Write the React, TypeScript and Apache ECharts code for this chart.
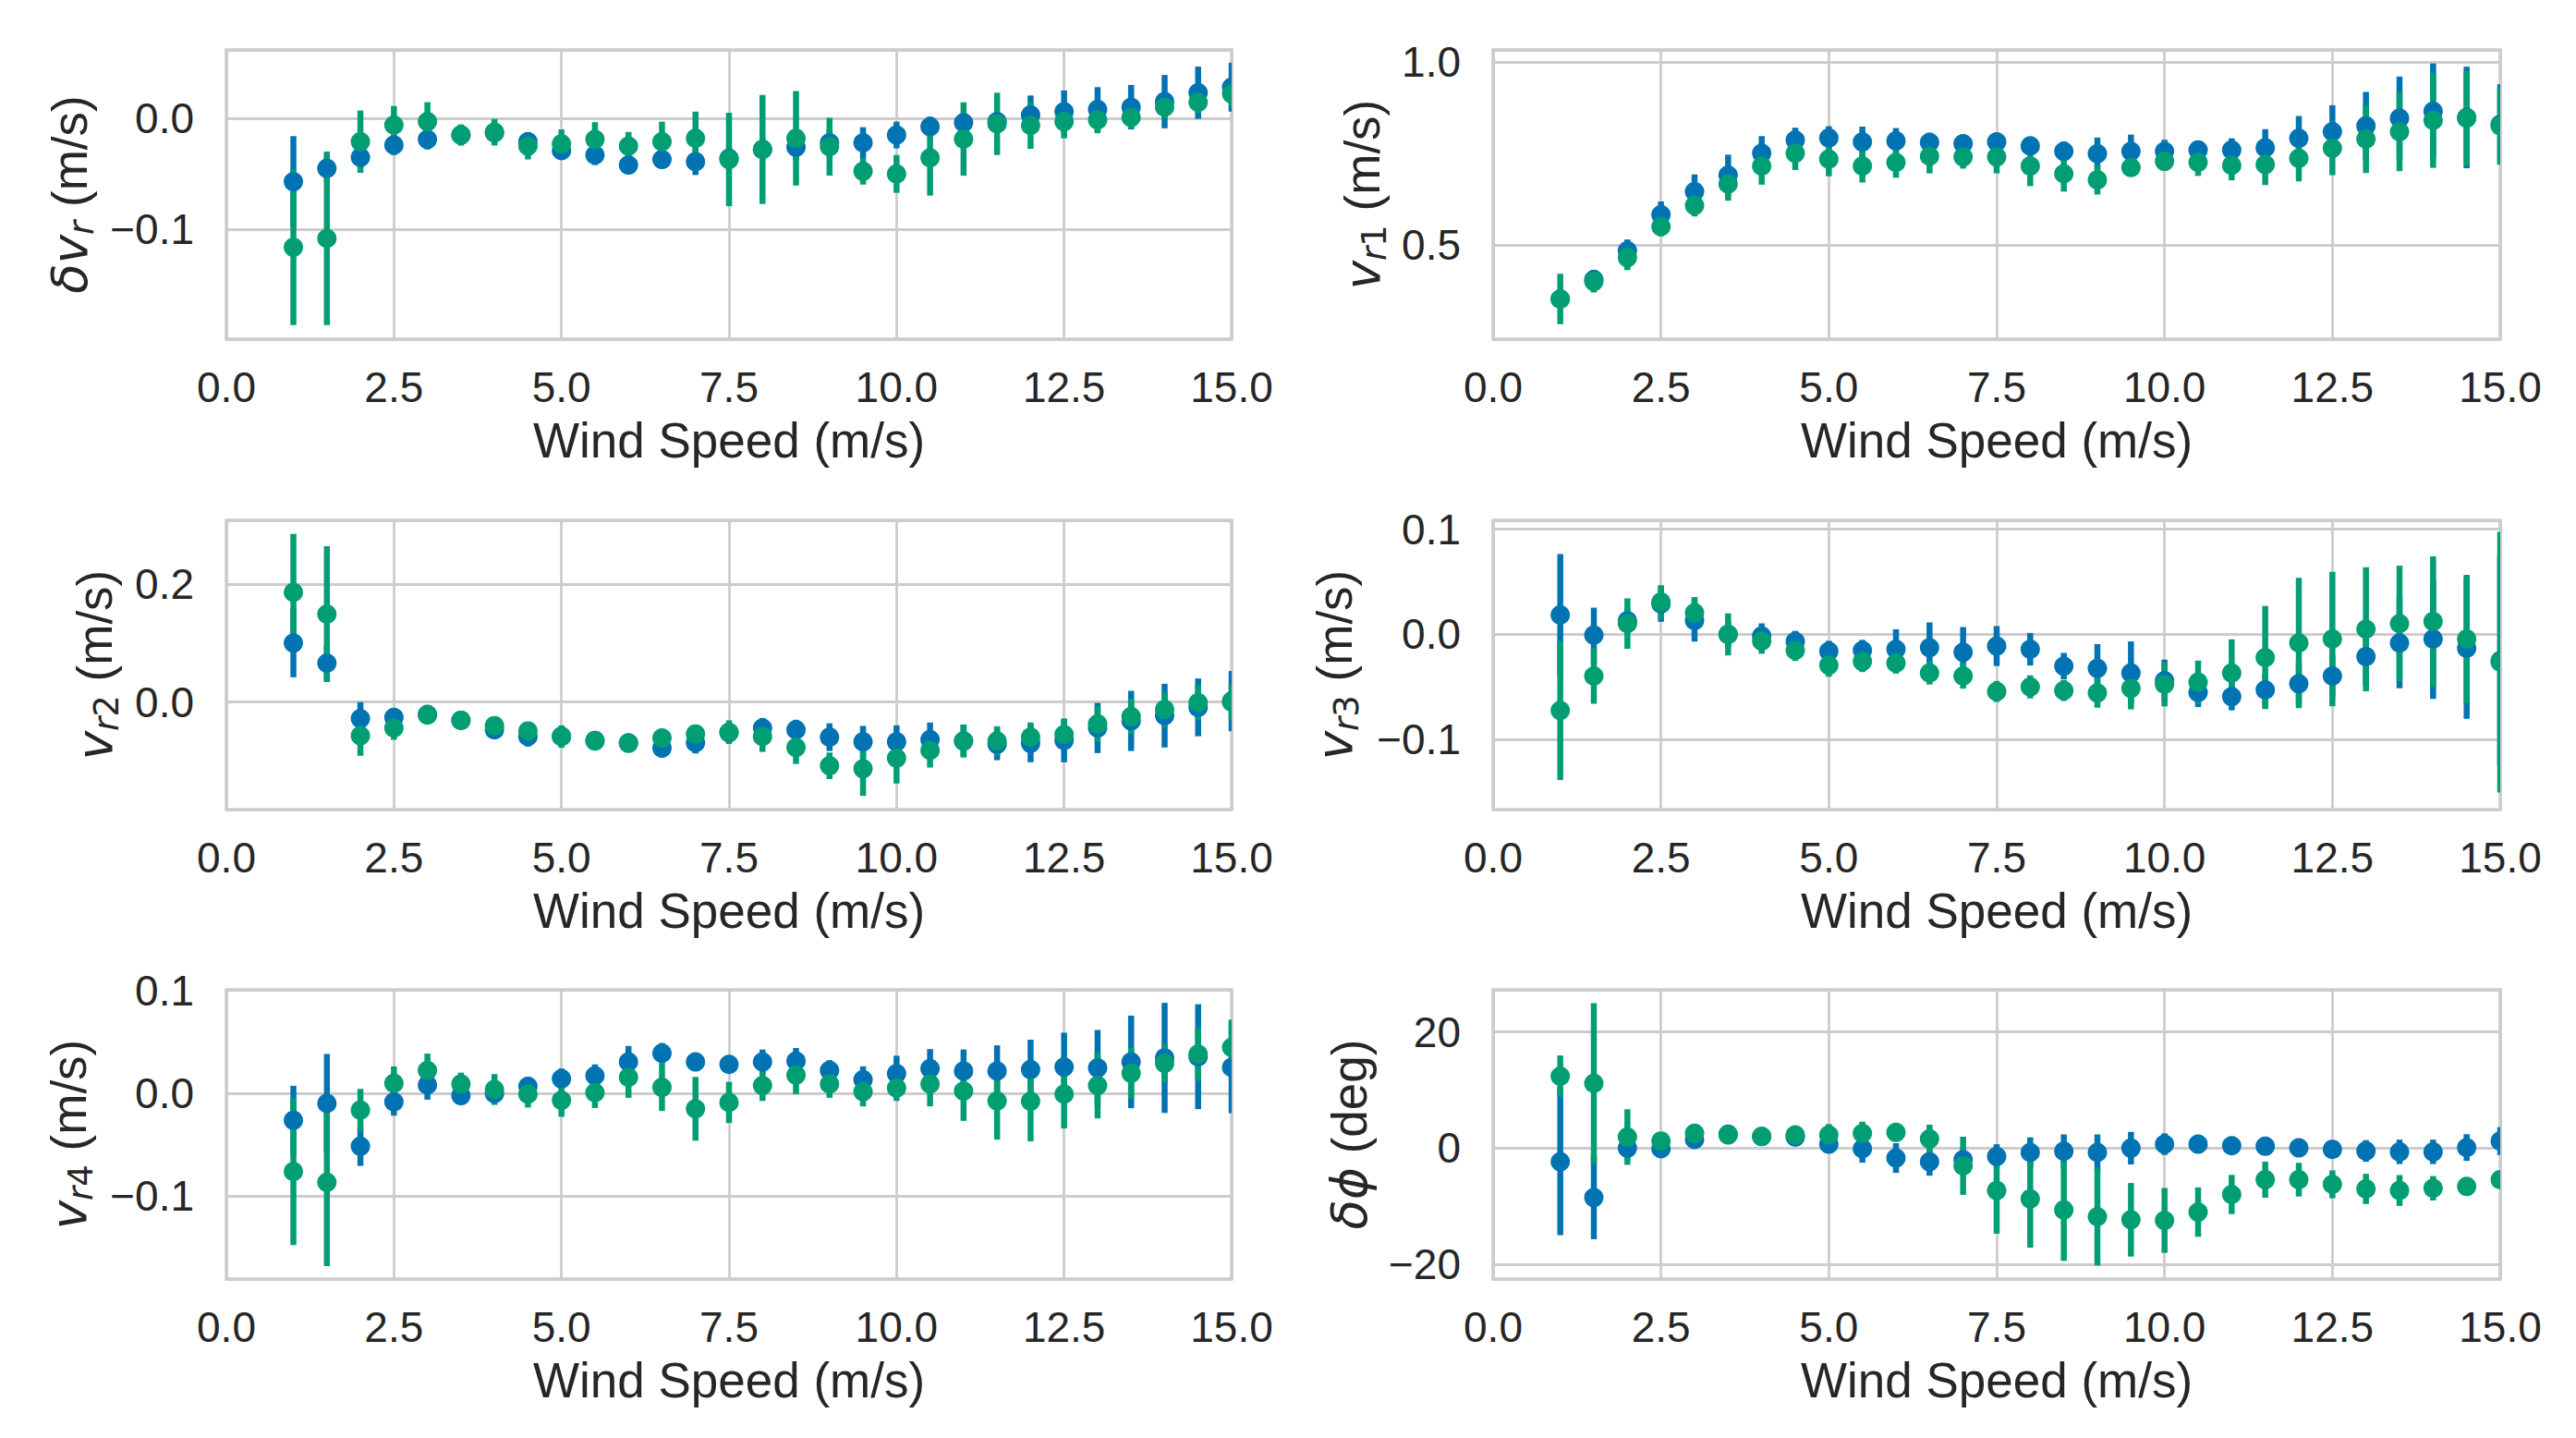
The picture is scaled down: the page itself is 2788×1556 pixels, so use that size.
import React, { useEffect, useRef } from 'react';
import * as echarts from 'echarts';

// ---------- data ----------
const windSpeed = [1.0, 1.5, 2.0, 2.5, 3.0, 3.5, 4.0, 4.5, 5.0, 5.5, 6.0, 6.5, 7.0, 7.5, 8.0, 8.5, 9.0, 9.5, 10.0, 10.5, 11.0, 11.5, 12.0, 12.5, 13.0, 13.5, 14.0, 14.5, 15.0];
const xTicks = [0, 2.5, 5, 7.5, 10, 12.5, 15];

// δv_r
const dvrBlueMean = [-0.057, -0.045, -0.035, -0.024, -0.019, -0.015, -0.013, -0.021, -0.029, -0.033, -0.042, -0.037, -0.039, -0.036, -0.028, -0.026, -0.022, -0.022, -0.015, -0.0075, -0.004, -0.003, 0.003, 0.006, 0.008, 0.010, 0.015, 0.023, 0.028];
const dvrBlueErr = [0.041, 0.012, 0.01, 0.009, 0.009, 0.008, 0.008, 0.008, 0.008, 0.009, 0.008, 0.008, 0.012, 0.01, 0.01, 0.012, 0.012, 0.014, 0.012, 0.009, 0.008, 0.008, 0.0175, 0.019, 0.02, 0.02, 0.024, 0.0235, 0.022];
const dvrGreenMean = [-0.116, -0.108, -0.021, -0.006, -0.003, -0.015, -0.0125, -0.025, -0.023, -0.019, -0.025, -0.021, -0.018, -0.037, -0.028, -0.018, -0.0255, -0.0476, -0.050, -0.0355, -0.0186, -0.005, -0.0064, -0.003, -0.0014, 0.0008, 0.010, 0.0144, 0.022];
const dvrGreenErr = [0.070, 0.078, 0.028, 0.017, 0.0175, 0.0095, 0.012, 0.012, 0.013, 0.0155, 0.0127, 0.018, 0.024, 0.042, 0.049, 0.0425, 0.026, 0.012, 0.017, 0.034, 0.033, 0.028, 0.021, 0.015, 0.012, 0.01, 0.01, 0.01, 0.012];

// v_r1
const vr1BlueMean = [0.352, 0.405, 0.484, 0.583, 0.646, 0.691, 0.751, 0.787, 0.793, 0.782, 0.785, 0.781, 0.777, 0.782, 0.771, 0.756, 0.750, 0.756, 0.756, 0.760, 0.760, 0.766, 0.792, 0.810, 0.826, 0.847, 0.866, 0.849, 0.830];
const vr1BlueErr = [0.02, 0.027, 0.031, 0.036, 0.047, 0.056, 0.047, 0.034, 0.032, 0.042, 0.035, 0.026, 0.024, 0.024, 0.026, 0.027, 0.044, 0.046, 0.032, 0.024, 0.032, 0.051, 0.061, 0.0725, 0.093, 0.114, 0.131, 0.139, 0.11];
const vr1GreenMean = [0.352, 0.400, 0.465, 0.550, 0.608, 0.667, 0.716, 0.751, 0.735, 0.716, 0.726, 0.743, 0.741, 0.741, 0.716, 0.695, 0.678, 0.712, 0.729, 0.726, 0.718, 0.720, 0.737, 0.765, 0.790, 0.810, 0.841, 0.847, 0.826];
const vr1GreenErr = [0.069, 0.03, 0.034, 0.026, 0.03, 0.046, 0.051, 0.046, 0.047, 0.045, 0.042, 0.047, 0.032, 0.045, 0.055, 0.049, 0.04, 0.025, 0.025, 0.037, 0.041, 0.056, 0.063, 0.074, 0.093, 0.108, 0.13, 0.13, 0.104];

// v_r2
const vr2BlueMean = [0.100, 0.066, -0.028, -0.026, -0.021, -0.031, -0.047, -0.0585, -0.058, -0.065, -0.069, -0.078, -0.069, -0.052, -0.044, -0.047, -0.0595, -0.0674, -0.0674, -0.0637, -0.066, -0.0715, -0.070, -0.065, -0.044, -0.032, -0.023, -0.009, 0.0016];
const vr2BlueErr = [0.058, 0.03, 0.028, 0.013, 0.01, 0.01, 0.015, 0.017, 0.012, 0.01, 0.01, 0.016, 0.018, 0.015, 0.017, 0.017, 0.0235, 0.027, 0.028, 0.029, 0.027, 0.027, 0.032, 0.037, 0.0425, 0.051, 0.054, 0.049, 0.051];
const vr2GreenMean = [0.186, 0.149, -0.057, -0.044, -0.022, -0.031, -0.040, -0.049, -0.0585, -0.066, -0.070, -0.061, -0.054, -0.051, -0.0585, -0.077, -0.108, -0.113, -0.095, -0.082, -0.066, -0.066, -0.0595, -0.055, -0.037, -0.0245, -0.0125, -0.001, 0.0];
const vr2GreenErr = [0.099, 0.115, 0.034, 0.02, 0.01, 0.01, 0.012, 0.012, 0.019, 0.01, 0.01, 0.012, 0.015, 0.02, 0.026, 0.028, 0.0225, 0.046, 0.043, 0.029, 0.028, 0.025, 0.025, 0.025, 0.03, 0.03, 0.03, 0.03, 0.03];

// v_r3
const vr3BlueMean = [0.0185, -0.0006, 0.013, 0.029, 0.0132, 0.0, -0.0015, -0.0067, -0.0161, -0.0152, -0.0141, -0.0126, -0.017, -0.0111, -0.0141, -0.0302, -0.0323, -0.0367, -0.044, -0.0551, -0.0592, -0.0528, -0.0469, -0.0396, -0.0211, -0.0082, -0.0044, -0.0132, -0.025];
const vr3BlueErr = [0.058, 0.026, 0.012, 0.017, 0.02, 0.012, 0.012, 0.01, 0.01, 0.01, 0.019, 0.024, 0.024, 0.019, 0.0155, 0.0126, 0.023, 0.03, 0.02, 0.014, 0.013, 0.015, 0.02, 0.02, 0.028, 0.043, 0.057, 0.067, 0.1];
const vr3GreenMean = [-0.0724, -0.0396, 0.0103, 0.0308, 0.0205, 0.0, -0.0064, -0.0152, -0.0293, -0.0258, -0.0273, -0.0367, -0.0396, -0.0543, -0.0499, -0.0534, -0.0557, -0.0513, -0.0475, -0.0455, -0.0367, -0.022, -0.0082, -0.0044, 0.005, 0.0103, 0.0123, -0.0044, -0.0264];
const vr3GreenErr = [0.066, 0.0264, 0.024, 0.016, 0.015, 0.02, 0.012, 0.01, 0.011, 0.01, 0.01, 0.011, 0.012, 0.01, 0.011, 0.01, 0.014, 0.02, 0.021, 0.0206, 0.032, 0.049, 0.062, 0.064, 0.059, 0.055, 0.062, 0.061, 0.124];

// v_r4
const vr4BlueMean = [-0.0263, -0.0099, -0.0516, -0.0084, 0.0081, -0.0024, -0.0003, 0.0066, 0.014, 0.017, 0.0304, 0.0388, 0.0304, 0.028, 0.0304, 0.0313, 0.0221, 0.0131, 0.0191, 0.0239, 0.0215, 0.0215, 0.023, 0.0254, 0.0245, 0.0304, 0.0343, 0.0355, 0.0251];
const vr4BlueErr = [0.0335, 0.048, 0.019, 0.0134, 0.0144, 0.008, 0.008, 0.009, 0.01, 0.011, 0.0155, 0.01, 0.008, 0.008, 0.012, 0.0126, 0.01, 0.013, 0.0173, 0.019, 0.021, 0.025, 0.029, 0.0334, 0.037, 0.045, 0.0535, 0.051, 0.0445];
const vr4GreenMean = [-0.0761, -0.0866, -0.0164, 0.0096, 0.0221, 0.009, 0.0036, -0.0009, -0.0069, 0.0006, 0.0155, 0.0057, -0.0152, -0.009, 0.0075, 0.0176, 0.009, 0.0015, 0.0051, 0.009, 0.0021, -0.0075, -0.0078, -0.0009, 0.0075, 0.0194, 0.029, 0.0379, 0.0445];
const vr4GreenErr = [0.0716, 0.0815, 0.0206, 0.0164, 0.0164, 0.011, 0.015, 0.013, 0.016, 0.015, 0.02, 0.023, 0.031, 0.02, 0.015, 0.0185, 0.0135, 0.0143, 0.0126, 0.0218, 0.029, 0.0376, 0.039, 0.0334, 0.032, 0.025, 0.019, 0.026, 0.027];

// δϕ (deg)
const dphiBlueMean = [-2.34, -8.5, 0.0, -0.1, 1.49, 2.4, 2.0, 1.91, 0.69, -0.1, -1.7, -2.34, -1.97, -1.43, -0.74, -0.53, -0.74, 0.0, 0.69, 0.69, 0.42, 0.32, 0.05, -0.21, -0.48, -0.64, -0.64, 0.1, 1.22];
const dphiBlueErr = [12.64, 7.17, 2.0, 1.5, 1.5, 1.2, 1.0, 1.2, 1.5, 2.4, 2.55, 2.4, 2.0, 2.1, 2.6, 2.9, 3.1, 2.8, 1.86, 1.2, 1.2, 1.0, 1.0, 1.0, 1.86, 2.1, 2.1, 2.3, 2.4];
const dphiGreenMean = [12.38, 11.16, 1.91, 1.22, 2.55, 2.28, 2.02, 2.28, 2.28, 2.55, 2.71, 1.59, -3.03, -7.28, -8.71, -10.62, -11.79, -12.32, -12.43, -11.0, -7.97, -5.42, -5.42, -6.22, -7.01, -7.28, -6.9, -6.59, -5.42];
const dphiGreenErr = [3.56, 13.8, 4.78, 1.2, 1.0, 1.0, 1.0, 1.0, 1.86, 2.0, 1.5, 2.45, 5.0, 7.44, 8.4, 8.77, 8.4, 6.33, 5.58, 4.25, 3.37, 3.1, 2.9, 2.4, 2.6, 2.65, 2.1, 1.5, 1.5];

// y tick steps per panel
const yTickSteps = [0.1, 0.5, 0.2, 0.1, 0.1, 20];

// ---------- style ----------
const BLUE = '#0173b2';
const GREEN = '#029e73';
const GRID = '#cccccc';
const TEXT = '#262626';
const SANS = 'Liberation Sans, Arial, sans-serif';
const MATH = 'DejaVu Sans, sans-serif';
const TICK_FS = 46;
const LABEL_FS = 53;
const SUB_FS = 37;

interface Panel {
  name: string;
  yMin: number;
  yMax: number;
  step: number;
  dec: number;
  blueMean: number[];
  blueErr: number[];
  greenMean: number[];
  greenErr: number[];
  left: number;
  top: number;
  width: number;
  nameGap: number;
}

const COL_L = [245, 1616];
const COL_W = [1088, 1090];
const ROW_T = [54, 563, 1071];
const PLOT_H = 313;

const panels: Panel[] = [
  { name: '{m|δv}{s|r}{t| (m/s)}', yMin: -0.1986, yMax: 0.0615, step: yTickSteps[0], dec: 1,
    blueMean: dvrBlueMean, blueErr: dvrBlueErr, greenMean: dvrGreenMean, greenErr: dvrGreenErr,
    left: COL_L[0], top: ROW_T[0], width: COL_W[0], nameGap: 138 },
  { name: '{m|v}{s|r}{u|1}{t| (m/s)}', yMin: 0.242, yMax: 1.034, step: yTickSteps[1], dec: 1,
    blueMean: vr1BlueMean, blueErr: vr1BlueErr, greenMean: vr1GreenMean, greenErr: vr1GreenErr,
    left: COL_L[1], top: ROW_T[0], width: COL_W[1], nameGap: 110 },
  { name: '{m|v}{s|r}{u|2}{t| (m/s)}', yMin: -0.1822, yMax: 0.308, step: yTickSteps[2], dec: 1,
    blueMean: vr2BlueMean, blueErr: vr2BlueErr, greenMean: vr2GreenMean, greenErr: vr2GreenErr,
    left: COL_L[0], top: ROW_T[1], width: COL_W[0], nameGap: 111 },
  { name: '{m|v}{s|r}{u|3}{t| (m/s)}', yMin: -0.1666, yMax: 0.1085, step: yTickSteps[3], dec: 1,
    blueMean: vr3BlueMean, blueErr: vr3BlueErr, greenMean: vr3GreenMean, greenErr: vr3GreenErr,
    left: COL_L[1], top: ROW_T[1], width: COL_W[1], nameGap: 140 },
  { name: '{m|v}{s|r}{u|4}{t| (m/s)}', yMin: -0.1806, yMax: 0.1005, step: yTickSteps[4], dec: 1,
    blueMean: vr4BlueMean, blueErr: vr4BlueErr, greenMean: vr4GreenMean, greenErr: vr4GreenErr,
    left: COL_L[0], top: ROW_T[2], width: COL_W[0], nameGap: 139 },
  { name: '{m|δϕ}{t| (deg)}', yMin: -22.52, yMax: 27.25, step: yTickSteps[5], dec: 0,
    blueMean: dphiBlueMean, blueErr: dphiBlueErr, greenMean: dphiGreenMean, greenErr: dphiGreenErr,
    left: COL_L[1], top: ROW_T[2], width: COL_W[1], nameGap: 124 },
];

const fmtTick = (step: number, dec: number) => (v: number) => {
  const k = Math.round(v / step);
  if (Math.abs(v - k * step) > step * 1e-4) return '';
  if (k === 0) return (0).toFixed(dec);
  return (k * step).toFixed(dec).replace('-', '\u2212');
};

function errSeries(idx: number, mean: number[], err: number[], color: string) {
  return {
    type: 'custom',
    xAxisIndex: idx,
    yAxisIndex: idx,
    clip: true,
    silent: true,
    z: 2,
    data: windSpeed.map((x, i) => [x, mean[i] - err[i], mean[i] + err[i]]),
    encode: { x: 0, y: [1, 2] },
    renderItem: (_p: any, api: any) => {
      const a = api.coord([api.value(0), api.value(1)]);
      const b = api.coord([api.value(0), api.value(2)]);
      return {
        type: 'line',
        shape: { x1: a[0], y1: a[1], x2: b[0], y2: b[1] },
        style: { stroke: color, lineWidth: 6.5, lineCap: 'butt' },
      };
    },
  };
}

function dotSeries(idx: number, mean: number[], color: string) {
  return {
    type: 'custom',
    xAxisIndex: idx,
    yAxisIndex: idx,
    clip: true,
    silent: true,
    z: 3,
    data: windSpeed.map((x, i) => [x, mean[i]]),
    encode: { x: 0, y: 1 },
    renderItem: (_p: any, api: any) => {
      const c = api.coord([api.value(0), api.value(1)]);
      return {
        type: 'circle',
        shape: { cx: c[0], cy: c[1], r: 10.5 },
        style: { fill: color },
      };
    },
  };
}

function buildOption() {
  const grid: any[] = [];
  const xAxis: any[] = [];
  const yAxis: any[] = [];
  const series: any[] = [];
  panels.forEach((p, i) => {
    grid.push({
      left: p.left, top: p.top, width: p.width, height: PLOT_H,
      show: true, borderColor: GRID, borderWidth: 3.5, backgroundColor: '#ffffff',
    });
    xAxis.push({
      type: 'value', gridIndex: i, min: xTicks[0], max: xTicks[xTicks.length - 1], interval: 2.5,
      name: 'Wind Speed (m/s)', nameLocation: 'middle', nameGap: 83,
      nameTextStyle: { fontFamily: SANS, fontSize: LABEL_FS, color: TEXT },
      axisLine: { show: false }, axisTick: { show: false },
      axisLabel: { fontFamily: SANS, fontSize: TICK_FS, color: TEXT, margin: 29, formatter: (v: number) => v.toFixed(1) },
      splitLine: { show: true, lineStyle: { color: GRID, width: 2.8 } },
    });
    yAxis.push({
      type: 'value', gridIndex: i, min: p.yMin, max: p.yMax, minInterval: p.step, maxInterval: p.step,
      name: p.name, nameLocation: 'middle', nameGap: p.nameGap,
      nameTextStyle: {
        fontFamily: SANS, fontSize: LABEL_FS, color: TEXT,
        rich: {
          m: { fontFamily: MATH, fontStyle: 'italic', fontSize: LABEL_FS, lineHeight: 64, verticalAlign: 'middle', color: TEXT },
          s: { fontFamily: MATH, fontStyle: 'italic', fontSize: SUB_FS, lineHeight: SUB_FS, verticalAlign: 'bottom', color: TEXT },
          u: { fontFamily: MATH, fontSize: SUB_FS, lineHeight: SUB_FS, verticalAlign: 'bottom', color: TEXT },
          t: { fontFamily: SANS, fontSize: LABEL_FS, lineHeight: 64, verticalAlign: 'middle', color: TEXT },
        },
      },
      axisLine: { show: false }, axisTick: { show: false },
      axisLabel: { fontFamily: SANS, fontSize: TICK_FS, color: TEXT, margin: 35, formatter: fmtTick(p.step, p.dec) },
      splitLine: { show: true, lineStyle: { color: GRID, width: 2.8 } },
    });
  });
  panels.forEach((p, i) => {
    series.push(errSeries(i, p.blueMean, p.blueErr, BLUE));
    series.push(errSeries(i, p.greenMean, p.greenErr, GREEN));
  });
  panels.forEach((p, i) => {
    series.push(dotSeries(i, p.blueMean, BLUE));
    series.push(dotSeries(i, p.greenMean, GREEN));
  });
  return { animation: false, backgroundColor: '#ffffff', grid, xAxis, yAxis, series };
}

export default function App() {
  const ref = useRef<HTMLDivElement>(null);
  useEffect(() => {
    if (!ref.current) return;
    const chart = echarts.init(ref.current, undefined, { renderer: 'svg' });
    chart.setOption(buildOption() as any);
    return () => chart.dispose();
  }, []);
  return (
    <div
      ref={ref}
      style={{ position: 'fixed', left: 0, top: 0, width: '2788px', height: '1556px', background: '#ffffff' }}
    />
  );
}
